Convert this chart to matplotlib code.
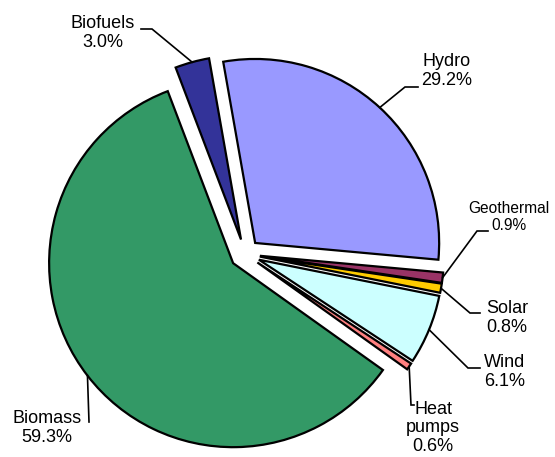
import numpy as np
import matplotlib.pyplot as plt

# renewable energy shares (%), clockwise from the top
names = ["Hydro", "Geothermal", "Solar", "Wind", "Heat pumps", "Biomass", "Biofuels"]
shares = [29.2, 0.9, 0.8, 6.1, 0.6, 59.3, 3.0]
label_text = ["Hydro\n29.2%", "Geothermal\n0.9%", "Solar\n0.8%", "Wind\n6.1%",
              "Heat\npumps\n0.6%", "Biomass\n59.3%", "Biofuels\n3.0%"]
colors = ["#9999ff", "#993366", "#ffcc00", "#ccffff", "#ff8080", "#339966", "#333399"]

W, H = 555, 457
cx, cy = 245, 254   # pie centre in image pixels (from top-left)

# label layout in image pixels: text centre, elbow of leader, end of leader
text_pos = [(447, 71), (509, 217), (507, 318), (505, 372), (433, 428), (47, 428), (103, 33)]
elbows = [(405, 87), (477, 231), (470, 313), (468, 368), (411, 405), (89, 422), (152, 29)]
ends = [(418, 87), (488, 231), (480, 313), (480, 368), (414, 405), (89, 422), (141, 29)]
sizes = [13, 11.2, 13, 13, 13, 13, 13]


def to_data(p):
    return p[0] - cx, cy - p[1]


plt.rcParams['font.family'] = ['Liberation Sans', 'DejaVu Sans']
fig = plt.figure(figsize=(W / 100, H / 100), dpi=100)
ax = fig.add_axes([0, 0, 1, 1])

wedges, _ = ax.pie(shares, colors=colors, startangle=100, counterclock=False,
                   radius=184, explode=[15] * len(shares),
                   wedgeprops=dict(edgecolor="black", linewidth=1.6, joinstyle="miter"))

ax.set_xlim(-cx, W - cx)
ax.set_ylim(cy - H, cy)
ax.set_aspect("auto")
ax.axis("off")

# leader lines start on the arc at the middle of each wedge
for w, txt, tp, el, en, fs in zip(wedges, label_text, text_pos, elbows, ends, sizes):
    th = np.deg2rad((w.theta1 + w.theta2) / 2)
    ax0 = w.center[0] + w.r * np.cos(th)
    ay0 = w.center[1] + w.r * np.sin(th)
    ex, ey = to_data(el)
    nx, ny = to_data(en)
    ax.plot([ax0, ex, nx], [ay0, ey, ny], color="black", lw=1.2, solid_joinstyle="miter")
    tx, ty = to_data(tp)
    ax.text(tx, ty, txt, ha="center", va="center", fontsize=fs, linespacing=1.15,
            multialignment="center")

fig.savefig("out.png", dpi=100)
